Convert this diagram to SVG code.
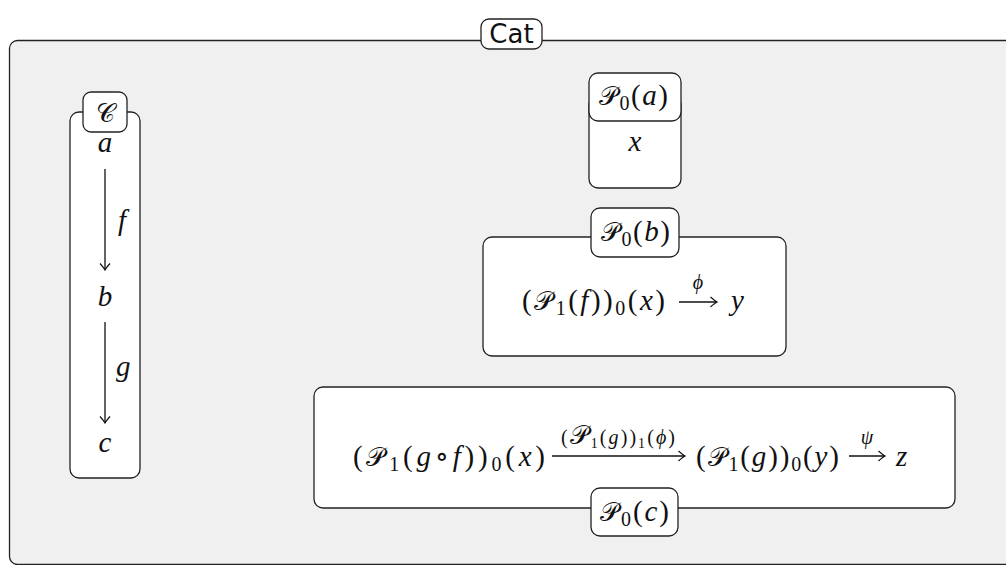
<svg xmlns="http://www.w3.org/2000/svg" width="1006" height="565" viewBox="0 0 1006 565">
<defs>
<style>
.box{fill:#fff;stroke:#222;stroke-width:1.3}
.m{font-family:"Liberation Serif","DejaVu Serif",serif;font-size:29px;fill:#111}
.i{font-style:italic}
.s{font-size:20px}
.sc{font-family:"DejaVu Sans","Noto Sans",sans-serif;font-size:26px}
.cat{font-family:"DejaVu Sans","Liberation Sans",sans-serif;font-size:26px;fill:#111}
.ar{stroke:#111;stroke-width:1.3;fill:none}
</style>
<marker id="to" viewBox="-8 -6 10 12" refX="0" refY="0" markerWidth="10" markerHeight="12" markerUnits="userSpaceOnUse" orient="auto">
<path d="M-6.5,-5 Q-2,-1 0,0 Q-2,1 -6.5,5" fill="none" stroke="#111" stroke-width="1.2"/>
</marker>
</defs>
<rect width="1006" height="565" fill="#fff"/>
<g id="cat">
<rect x="9.5" y="40.5" width="1010" height="524" rx="8" fill="#f0f0f0" stroke="#222" stroke-width="1.3"/>
<rect class="box" x="481" y="19" width="61" height="30" rx="8"/>
<text class="cat" x="511.5" y="43" text-anchor="middle">Cat</text>
</g>
<g id="C">
<rect class="box" x="70" y="112" width="70" height="366" rx="9"/>
<rect class="box" x="83" y="92" width="44" height="40" rx="8"/>
<text class="m sc" x="105" y="122" text-anchor="middle">𝒞</text>
</g>
<g id="obj-a"><text class="m i" x="105" y="152" text-anchor="middle">a</text></g>
<g id="obj-b"><text class="m i" x="105" y="306" text-anchor="middle">b</text></g>
<g id="obj-c"><text class="m i" x="105" y="452" text-anchor="middle">c</text></g>
<g id="P0a">
<rect class="box" x="589" y="95" width="92" height="93" rx="9"/>
<rect class="box" x="589" y="73" width="92" height="48" rx="9"/>
<text class="m" x="599" y="105" textLength="69" lengthAdjust="spacing"><tspan class="sc">𝒫</tspan><tspan class="s" dy="5">0</tspan><tspan dy="-5">(</tspan><tspan class="i">a</tspan>)</text>
<text class="m i" x="635" y="151" text-anchor="middle">x</text>
</g>
<g id="P0b">
<rect class="box" x="483" y="237" width="303" height="119" rx="9"/>
<rect class="box" x="591" y="208" width="88" height="49" rx="9"/>
<text class="m" x="601" y="241" textLength="69" lengthAdjust="spacing"><tspan class="sc">𝒫</tspan><tspan class="s" dy="5">0</tspan><tspan dy="-5">(</tspan><tspan class="i">b</tspan>)</text>
<text class="m" x="522" y="310" textLength="143" lengthAdjust="spacing">(<tspan class="sc">𝒫</tspan><tspan class="s" dy="5">1</tspan><tspan dy="-5">(</tspan><tspan class="i">f</tspan>))<tspan class="s" dy="5">0</tspan><tspan dy="-5">(</tspan><tspan class="i">x</tspan>)</text>
<text class="m i s" x="698" y="289" text-anchor="middle">ϕ</text>
<text class="m i" x="731" y="310">y</text>
</g>
<g id="P0c">
<rect class="box" x="314" y="387" width="641" height="121" rx="9"/>
<rect class="box" x="591" y="488" width="87" height="48" rx="9"/>
<text class="m" x="600" y="521" textLength="69" lengthAdjust="spacing"><tspan class="sc">𝒫</tspan><tspan class="s" dy="5">0</tspan><tspan dy="-5">(</tspan><tspan class="i">c</tspan>)</text>
<text class="m" x="353" y="466" textLength="192" lengthAdjust="spacing">(<tspan class="sc">𝒫</tspan><tspan class="s" dy="5">1</tspan><tspan dy="-5">(</tspan><tspan class="i">g</tspan>∘<tspan class="i">f</tspan>))<tspan class="s" dy="5">0</tspan><tspan dy="-5">(</tspan><tspan class="i">x</tspan>)</text>
<text class="m s" x="561" y="444" textLength="114" lengthAdjust="spacing">(<tspan class="sc" font-size="18">𝒫</tspan><tspan font-size="14" dy="4">1</tspan><tspan dy="-4">(</tspan><tspan class="i">g</tspan>))<tspan font-size="14" dy="4">1</tspan><tspan dy="-4">(</tspan><tspan class="i">ϕ</tspan>)</text>
<text class="m" x="696" y="466" textLength="143" lengthAdjust="spacing">(<tspan class="sc">𝒫</tspan><tspan class="s" dy="5">1</tspan><tspan dy="-5">(</tspan><tspan class="i">g</tspan>))<tspan class="s" dy="5">0</tspan><tspan dy="-5">(</tspan><tspan class="i">y</tspan>)</text>
<text class="m i s" x="867" y="444" text-anchor="middle">ψ</text>
<text class="m i" x="896" y="466">z</text>
</g>
<g id="connectors">
<line class="ar" x1="105" y1="169" x2="105" y2="270" marker-end="url(#to)"/>
<text class="m i" x="118" y="230">f</text>
<line class="ar" x1="105" y1="322" x2="105" y2="423" marker-end="url(#to)"/>
<text class="m i" x="116" y="376">g</text>
<line class="ar" x1="679" y1="302" x2="717" y2="302" marker-end="url(#to)"/>
<line class="ar" x1="552" y1="456" x2="685" y2="456" marker-end="url(#to)"/>
<line class="ar" x1="849" y1="456" x2="885" y2="456" marker-end="url(#to)"/>
</g>
</svg>
